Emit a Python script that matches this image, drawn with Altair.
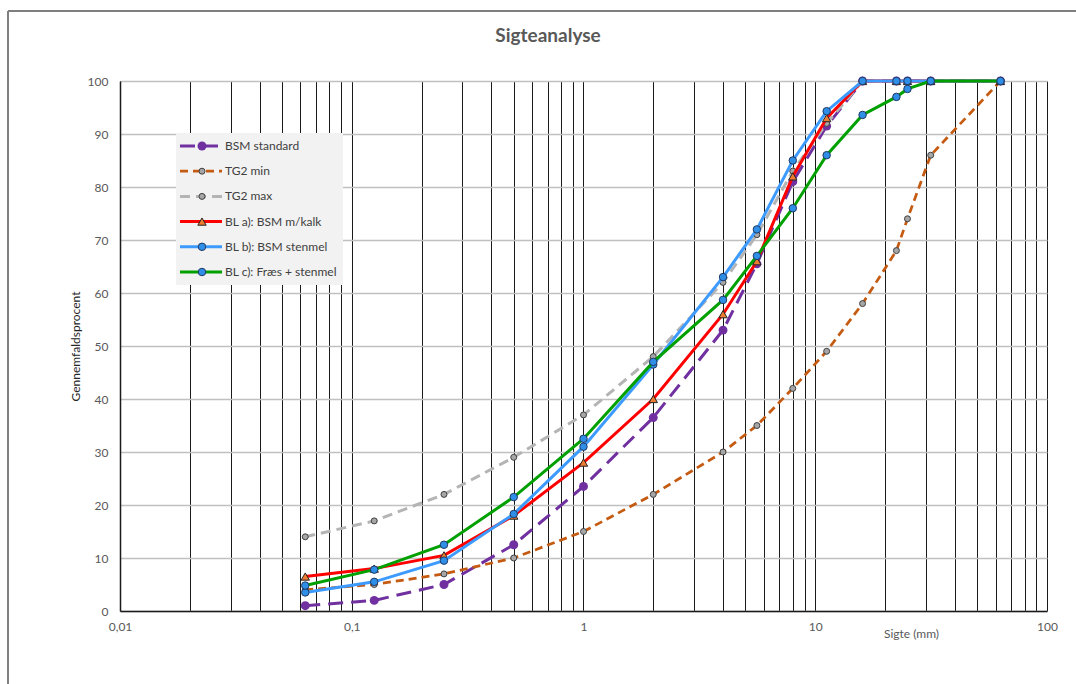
import altair as alt
import pandas as pd

# ---------------- data ----------------
chart_title = "Sigteanalyse"
sieve_mm = [0.063, 0.125, 0.25, 0.5, 1, 2, 4, 5.6, 8, 11.2, 16, 22.4, 25, 31.5, 63]

series_names = ["BSM standard", "TG2 min", "TG2 max",
                "BL a): BSM m/kalk", "BL b): BSM stenmel", "BL c): Fræs + stenmel"]

bsm_standard = [1, 2, 5, 12.5, 23.5, 36.5, 53, 65.5, 81, 91.5, 100, 100, 100, 100, 100]
tg2_min = [4, 5, 7, 10, 15, 22, 30, 35, 42, 49, 58, 68, 74, 86, 100]
tg2_max = [14, 17, 22, 29, 37, 48, 62, 71, 83, 92, 100, 100, 100, 100, 100]
bl_a = [6.5, 8, 10.5, 18, 28, 40, 56, 66, 82, 93, 100, 100, 100, 100, 100]
bl_b = [3.5, 5.5, 9.5, 18.3, 31, 46.5, 63, 72, 85, 94.3, 100, 100, 100, 100, 100]
bl_c = [4.8, 7.8, 12.5, 21.5, 32.5, 47, 58.7, 67, 76, 86, 93.6, 97, 98.5, 100, 100]

series_values = [bsm_standard, tg2_min, tg2_max, bl_a, bl_b, bl_c]

x_label_values = [0.01, 0.1, 1, 10, 100]
x_labels = ["0,01", "0,1", "1", "10", "100"]
x_grid_values = [m * 10 ** e for e in range(-2, 2) for m in range(1, 10)] + [100]
y_ticks = [0, 10, 20, 30, 40, 50, 60, 70, 80, 90, 100]

# ---------------- styles ----------------
FONT = "Lato"
TXT = "#595959"
styles = {
    "BSM standard": dict(color="#7030a0", width=3, dash=[15, 8], shape="circle",
                         fill="#7030a0", stroke=None, size=80),
    "TG2 min": dict(color="#c55a11", width=2.75, dash=[8, 5], shape="circle",
                    fill="#a6a6a6", stroke="#404040", size=36),
    "TG2 max": dict(color="#b4b4b4", width=3, dash=[10, 6], shape="circle",
                    fill="#a6a6a6", stroke="#404040", size=36),
    "BL a): BSM m/kalk": dict(color="#ff0000", width=3, dash=None, shape="triangle-up",
                              fill="#ed7d31", stroke="#262626", size=70),
    "BL b): BSM stenmel": dict(color="#3d9bff", width=3, dash=None, shape="circle",
                               fill="#2f8fe6", stroke="#1f3864", size=56),
    "BL c): Fræs + stenmel": dict(color="#00a000", width=3, dash=None, shape="circle",
                                  fill="#2f8fe6", stroke="#1f3864", size=56),
}

rows = []
for name, vals in zip(series_names, series_values):
    for s, v in zip(sieve_mm, vals):
        rows.append({"series": name, "size": s, "pct": v})
df = pd.DataFrame(rows)
legend_df = pd.DataFrame({"series": series_names})

label_expr = "".join(
    f"abs(datum.value - {v}) < {v * 1e-3} ? '{l}' : " for v, l in zip(x_label_values, x_labels)
) + "''"

x_enc = alt.X(
    "size:Q",
    scale=alt.Scale(type="log", domain=[0.01, 100], nice=False),
    axis=alt.Axis(values=x_grid_values, labelExpr=label_expr, grid=True,
                  gridColor="#1a1a1a", gridWidth=1, ticks=False, domainColor="#1a1a1a",
                  domainWidth=1.5, labelColor=TXT, labelFont=FONT, labelFontSize=12,
                  labelPadding=10, labelOverlap=False, labelFlush=False,
                  title="Sigte (mm)", titleFont=FONT, titleFontSize=12,
                  titleFontWeight="normal", titleColor=TXT, titleX=791, titleY=22,
                  titleAlign="center", titleBaseline="middle"),
)
y_enc = alt.Y(
    "pct:Q",
    scale=alt.Scale(domain=[0, 100], nice=False),
    axis=alt.Axis(values=y_ticks, grid=True, gridColor="#c0c0c0", gridWidth=1.5,
                  ticks=False, domainColor="#1a1a1a", domainWidth=1.5,
                  labelColor=TXT, labelFont=FONT, labelFontSize=12, labelPadding=12,
                  title="Gennemfaldsprocent", titleFont=FONT, titleFontSize=12,
                  titleFontWeight="normal", titleColor="#262626", titleX=-45, titleY=265,
                  titleAngle=270, titleAlign="center", titleBaseline="middle"),
)

main_layers = []
legend_layers = []
legend_y = alt.Y("series:N", scale=alt.Scale(type="point", domain=series_names,
                                            range=[65, 191], padding=0), axis=None)
for name in series_names:
    st = styles[name]
    base = alt.Chart(df).transform_filter(alt.datum.series == name)
    line_kw = dict(color=st["color"], strokeWidth=st["width"])
    if st["dash"]:
        line_kw["strokeDash"] = st["dash"]
    pt_kw = dict(shape=st["shape"], fill=st["fill"], filled=True, size=st["size"], opacity=1)
    if st["stroke"]:
        pt_kw.update(stroke=st["stroke"], strokeWidth=1)
    else:
        pt_kw.update(strokeWidth=0)
    main_layers.append(base.mark_line(**line_kw).encode(x=x_enc, y=y_enc))
    main_layers.append(base.mark_point(**pt_kw).encode(x=x_enc, y=y_enc))

    lbase = alt.Chart(legend_df).transform_filter(alt.datum.series == name)
    legend_layers.append(lbase.mark_rule(**line_kw).encode(
        x=alt.value(60), x2=alt.value(102), y=legend_y))
    legend_layers.append(lbase.mark_point(**pt_kw).encode(x=alt.value(82), y=legend_y))

legend_bg = alt.Chart(alt.Data(values=[{}])).mark_rect(fill="#f2f2f2").encode(
    x=alt.value(56), x2=alt.value(223), y=alt.value(52), y2=alt.value(204))
legend_text = alt.Chart(legend_df).mark_text(
    align="left", baseline="middle", font=FONT, fontSize=12, color="#404040"
).encode(x=alt.value(105), y=legend_y, text="series:N")

frame_left = alt.Chart(alt.Data(values=[{}])).mark_rule(color="#7f7f7f", strokeWidth=2).encode(
    x=alt.value(-112), y=alt.value(-70), y2=alt.value(603))
frame_top = alt.Chart(alt.Data(values=[{}])).mark_rule(color="#7f7f7f", strokeWidth=2).encode(
    x=alt.value(-112), x2=alt.value(956), y=alt.value(-70))

title_text = alt.Chart(alt.Data(values=[{"t": chart_title}])).mark_text(
    align="center", baseline="middle", font=FONT, fontSize=19, fontWeight="bold", color=TXT
).encode(x=alt.value(428), y=alt.value(-45), text="t:N")

main = alt.layer(*main_layers)
legend = alt.layer(legend_bg, *legend_layers, legend_text)

chart = alt.layer(main, legend, frame_left, frame_top, title_text).resolve_scale(
    y="independent"
).properties(
    width=927, height=530,
    padding={"left": 120, "top": 81, "right": 29, "bottom": 73},
    autosize=alt.AutoSizeParams(type="none"),
    background="white",
).configure_view(stroke=None)

chart.save("out.html", embed_options={"renderer": "svg", "actions": False})
